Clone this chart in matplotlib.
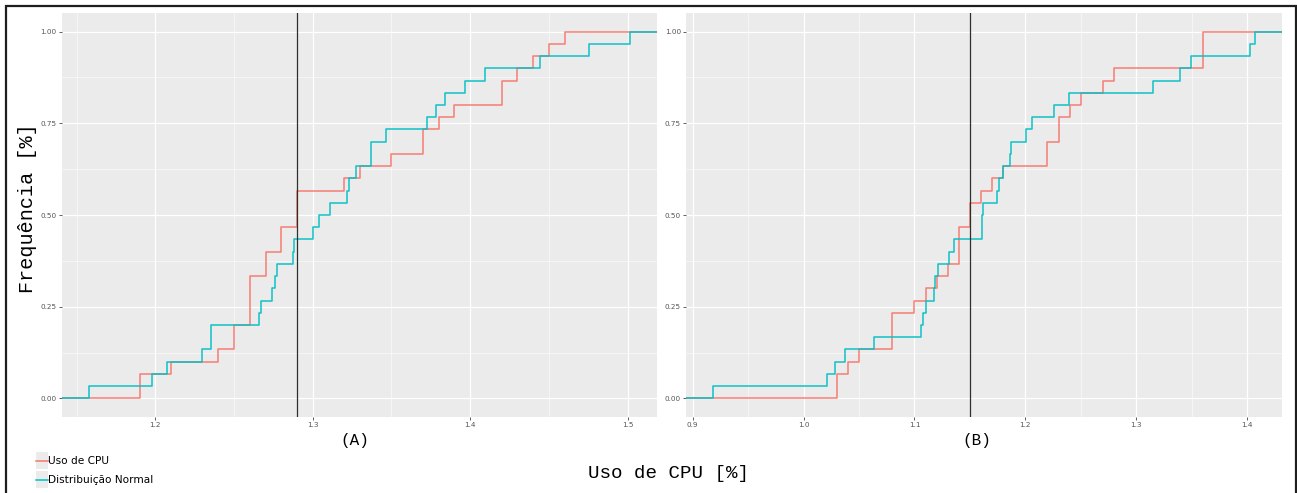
import numpy as np
import matplotlib
matplotlib.use("Agg")
import matplotlib.pyplot as plt
from matplotlib.patches import Rectangle
from matplotlib.lines import Line2D

# CPU usage samples (%) and matching normal-distribution samples, scenario A
cpu_a = [1.19, 1.19, 1.21, 1.24, 1.25, 1.25, 1.26, 1.26, 1.26, 1.26,
         1.27, 1.27, 1.28, 1.28, 1.29, 1.29, 1.29, 1.32, 1.33, 1.35,
         1.37, 1.37, 1.38, 1.39, 1.42, 1.42, 1.43, 1.44, 1.45, 1.46]
normal_a = [1.1577, 1.1977, 1.2074, 1.2298, 1.2351, 1.2355, 1.2660, 1.2674,
            1.2744, 1.2757, 1.2770, 1.2877, 1.2884, 1.3000, 1.3038, 1.3110,
            1.3219, 1.3228, 1.3273, 1.3368, 1.3372, 1.3463, 1.3727, 1.3780,
            1.3838, 1.3966, 1.4095, 1.4444, 1.4757, 1.5015]

# Scenario B
cpu_b = [1.03, 1.03, 1.04, 1.05, 1.08, 1.08, 1.08, 1.10, 1.11, 1.12,
         1.13, 1.14, 1.14, 1.14, 1.15, 1.15, 1.16, 1.17, 1.18, 1.22,
         1.22, 1.23, 1.23, 1.24, 1.25, 1.27, 1.28, 1.36, 1.36, 1.36]
normal_b = [0.9184, 1.0212, 1.0284, 1.0371, 1.0636, 1.1056, 1.1074, 1.1104,
            1.1177, 1.1188, 1.1209, 1.1308, 1.1360, 1.1608, 1.1611, 1.1614,
            1.1745, 1.1766, 1.1795, 1.1862, 1.1871, 1.2003, 1.2063, 1.2255,
            1.2394, 1.3151, 1.3398, 1.3491, 1.4023, 1.4068]

xticks_a = [1.2, 1.3, 1.4, 1.5]
xticks_b = [0.9, 1.0, 1.1, 1.2, 1.3, 1.4]
yticks = [0.0, 0.25, 0.50, 0.75, 1.00]
series_labels = ["Uso de CPU", "Distribuição Normal"]
panel_labels = ["(A)", "(B)"]

RED = "#F8766D"
CYAN = "#00BFC4"
PANEL_BG = "#EBEBEB"
MONO = "Liberation Mono"

W, H = 1297, 493
fig = plt.figure(figsize=(W / 100, H / 100), dpi=100)
fig.patch.set_facecolor("white")


def px_box(x0, y0, x1, y1):
    """Axes rect in figure fractions from pixel corners (top-left origin)."""
    return [x0 / W, 1 - y1 / H, (x1 - x0) / W, (y1 - y0) / H]


def ecdf_steps(values, lo, hi):
    xs = np.sort(np.asarray(values, dtype=float))
    n = len(xs)
    ys = np.arange(1, n + 1) / n
    return np.concatenate([[lo], xs, [hi]]), np.concatenate([[0.0], ys, [1.0]])


def draw_panel(ax, cpu, normal, xticks):
    allv = np.concatenate([cpu, normal])
    span = allv.max() - allv.min()
    lo, hi = allv.min() - 0.05 * span, allv.max() + 0.05 * span
    ax.set_facecolor(PANEL_BG)
    for v, col in ((cpu, RED), (normal, CYAN)):
        sx, sy = ecdf_steps(v, lo, hi)
        ax.plot(sx, sy, drawstyle="steps-post", color=col, lw=1.15,
                alpha=0.9, zorder=3)
    ax.axvline(np.median(cpu), color="#2e2e2e", lw=0.9, zorder=4)
    ax.set_xlim(lo, hi)
    ax.set_ylim(-0.05, 1.05)
    ax.set_xticks(xticks)
    ax.set_xticklabels([f"{t:.1f}" for t in xticks])
    ax.set_yticks(yticks)
    ax.set_yticklabels([f"{t:.2f}" for t in yticks])
    minor_x = [(a + b) / 2 for a, b in zip(xticks[:-1], xticks[1:])]
    minor_x = [xticks[0] - 0.05] + minor_x + [xticks[-1] + 0.05]
    ax.set_xticks([m for m in minor_x if lo < m < hi], minor=True)
    ax.set_yticks([0.125, 0.375, 0.625, 0.875], minor=True)
    ax.grid(which="major", color="white", lw=0.9)
    ax.grid(which="minor", color="white", lw=0.45, alpha=0.8)
    ax.set_axisbelow(True)
    for s in ax.spines.values():
        s.set_visible(False)
    ax.tick_params(which="major", length=2.2, width=0.6, color="#444444",
                   labelsize=5.2, labelcolor="#555555", pad=1.5)
    ax.tick_params(which="minor", length=0)


ax_a = fig.add_axes(px_box(61.7, 13.3, 657, 416.7))
ax_b = fig.add_axes(px_box(686, 13.3, 1281.7, 416.7))
draw_panel(ax_a, cpu_a, normal_a, xticks_a)
draw_panel(ax_b, cpu_b, normal_b, xticks_b)

# Panel captions and shared axis titles
fig.text(355 / W, 1 - 441 / H, panel_labels[0], family=MONO, fontsize=11.5,
         ha="center", va="center", color="black")
fig.text(977 / W, 1 - 441 / H, panel_labels[1], family=MONO, fontsize=11.5,
         ha="center", va="center", color="black")
fig.text(668 / W, 1 - 473 / H, "Uso de CPU [%]", family=MONO, fontsize=13.8,
         ha="center", va="center", color="black")
fig.text(28 / W, 1 - 208 / H, "Frequência [%]", family=MONO, fontsize=14.5,
         rotation=90, ha="center", va="center", color="black")

# Legend keys drawn below the left panel
for i, (lab, col) in enumerate(zip(series_labels, (RED, CYAN))):
    yc = 460.5 + i * 19.3
    fig.add_artist(Rectangle((36 / W, 1 - (yc + 8.5) / H), 11.7 / W, 17 / H,
                             transform=fig.transFigure, facecolor=PANEL_BG,
                             edgecolor="none"))
    fig.add_artist(Line2D([36 / W, 47.7 / W], [1 - yc / H, 1 - yc / H],
                          transform=fig.transFigure, color=col, lw=1.1))
    fig.text(48.5 / W, 1 - yc / H, lab, fontsize=7.6, ha="left", va="center",
             color="black", family="DejaVu Sans")

# Outer frame
fig.add_artist(Rectangle((6 / W, -0.1), (1295.5 - 6) / W, 1 - 6 / H + 0.1,
                         transform=fig.transFigure, facecolor="none",
                         edgecolor="#1e1e1e", lw=1.6))

fig.savefig("out.png", dpi=100)
